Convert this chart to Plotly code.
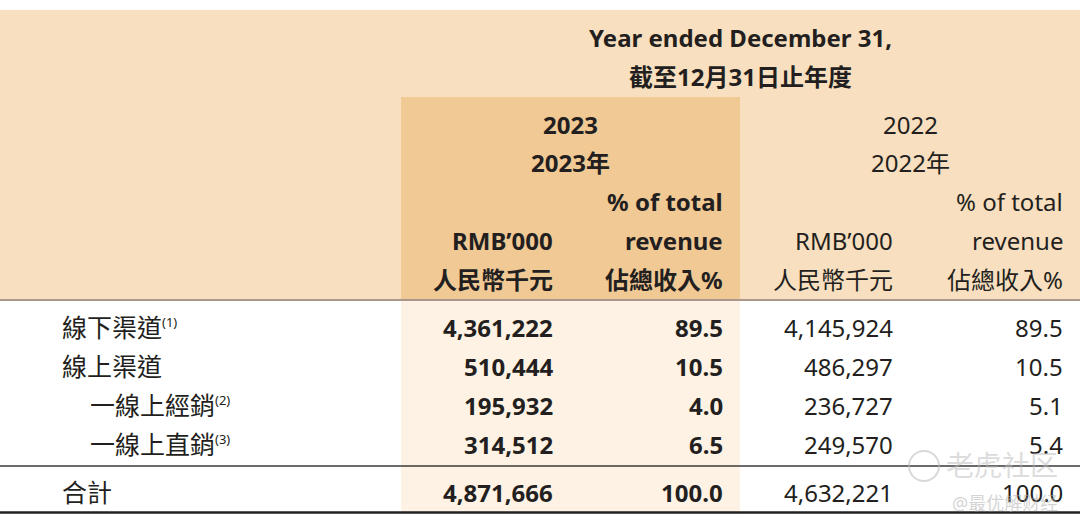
import plotly.graph_objects as go

# table data
categories = ["線下渠道", "線上渠道", "一線上經銷", "一線上直銷", "合計"]
notes = ["(1)", "", "(2)", "(3)", ""]
indent = [False, False, True, True, False]
rev_2023 = [4361222, 510444, 195932, 314512, 4871666]
pct_2023 = [89.5, 10.5, 4.0, 6.5, 100.0]
rev_2022 = [4145924, 486297, 236727, 249570, 4632221]
pct_2022 = [89.5, 10.5, 5.1, 5.4, 100.0]

title_en = "Year ended December 31,"
title_zh = "截至12月31日止年度"
years = ["2023", "2022"]
col_head = [["", "% of total"], ["RMB’000", "revenue"], ["人民幣千元", "佔總收入%"]]

W, H = 1080, 529
FONT = "Noto Sans, Noto Sans CJK TC, sans-serif"
INK = "#231f20"
PEACH = "#f8dfbf"
PEACH_DARK = "#f1c995"
PEACH_LIGHT = "#fdf2e4"

col_right = [555, 725, 895, 1065]
row_y = [327, 366, 405, 444, 492]
head_y = [201, 240, 279]

fig = go.Figure()
# invisible trace so the axes exist
fig.add_trace(go.Scatter(x=[0, W], y=[0, H], mode="markers",
                         marker=dict(opacity=0), hoverinfo="skip", showlegend=False))

shapes = [
    dict(type="rect", x0=0, x1=W, y0=10, y1=300, fillcolor=PEACH, line_width=0, layer="below"),
    dict(type="rect", x0=401, x1=740, y0=97, y1=300, fillcolor=PEACH_DARK, line_width=0, layer="below"),
    dict(type="rect", x0=401, x1=740, y0=300, y1=514, fillcolor=PEACH_LIGHT, line_width=0, layer="below"),
    dict(type="line", x0=0, x1=W, y0=300, y1=300, line=dict(color="#a8978a", width=2)),
    dict(type="line", x0=0, x1=W, y0=466, y1=466, line=dict(color="#3a3a3a", width=1.4)),
    dict(type="line", x0=0, x1=W, y0=512.5, y1=512.5, line=dict(color="#222222", width=2.6)),
    # watermark logo ring
    dict(type="circle", x0=909, x1=939, y0=451, y1=481,
         line=dict(color="rgba(185,185,185,0.55)", width=2)),
]

ann = []


def txt(x, y, s, size=24, bold=False, anchor="right", color=INK):
    if bold:
        s = "<b>" + s + "</b>"
    ann.append(dict(x=x, y=y, xref="x", yref="y", text=s, showarrow=False,
                    xanchor=anchor, yanchor="middle",
                    font=dict(family=FONT, size=size, color=color)))


# header
txt(740, 37, title_en, 24, True, "center")
txt(740, 76, title_zh, 24, True, "center")
for i, yr in enumerate(years):
    b = i == 0
    cx = 570 if b else 910
    txt(cx, 124, yr, 24, b, "center")
    txt(cx, 162, yr + "年", 24, b, "center")
    for j, (a, c) in enumerate(col_head):
        if a:
            txt(col_right[2 * i], head_y[j], a, 24, b)
        txt(col_right[2 * i + 1], head_y[j], c, 24, b)

# body
for k, cat in enumerate(categories):
    y = row_y[k]
    lab = cat
    if notes[k]:
        lab += f"<sup><span style='font-size:13px'>{notes[k]}</span></sup>"
    txt(88 if indent[k] else 60, y, lab, 25, False, "left")
    txt(col_right[0], y, f"{rev_2023[k]:,}", 24, True)
    txt(col_right[1], y, f"{pct_2023[k]:.1f}", 24, True)
    txt(col_right[2], y, f"{rev_2022[k]:,}", 24)
    txt(col_right[3], y, f"{pct_2022[k]:.1f}", 24)

# watermark
txt(1060, 465, "老虎社区", 28, False, "right", "rgba(185,185,185,0.5)")
txt(1060, 503, "@最优解财经", 18, False, "right", "rgba(175,175,175,0.55)")

fig.update_layout(
    width=W, height=H,
    margin=dict(l=0, r=0, t=0, b=0),
    paper_bgcolor="white", plot_bgcolor="white",
    xaxis=dict(range=[0, W], visible=False, fixedrange=True),
    yaxis=dict(range=[H, 0], visible=False, fixedrange=True),
    shapes=shapes, annotations=ann,
)

fig.write_html("out.html", config={"displayModeBar": False},
               post_script="document.body.style.margin='0px';")
